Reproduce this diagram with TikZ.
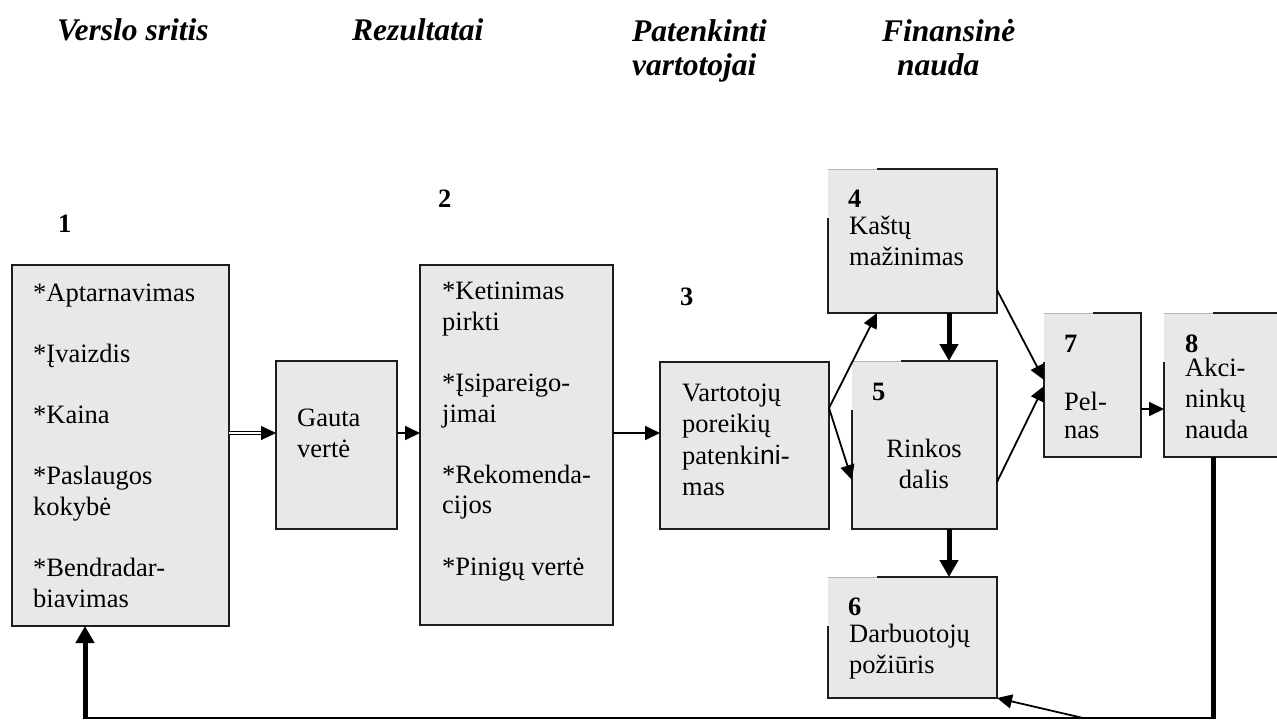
\documentclass[tikz,border=0pt]{standalone}
\usepackage{fontspec}
\setmainfont{Liberation Serif}
\newfontfamily\sansni{Liberation Sans}
\usetikzlibrary{arrows.meta}
\definecolor{boxfill}{RGB}{232,232,232}
\definecolor{edge}{RGB}{30,30,30}
\definecolor{faint}{RGB}{185,185,185}

\begin{document}
\begin{tikzpicture}[x=1pt,y=-1pt,
  box/.style={fill=boxfill, draw=edge, line width=1.8pt, inner sep=0pt, outer sep=0pt, anchor=north west},
  openbox/.style={fill=boxfill, inner sep=0pt, outer sep=0pt, anchor=north west},
  rim/.style={draw=edge, line width=1.8pt},
  faintrim/.style={draw=faint, line width=1pt},
  txt/.style={font=\fontsize{26.5}{30.6}\selectfont, inner sep=0pt, align=left, anchor=base west},
  hdr/.style={font=\fontsize{31.5}{34}\selectfont\bfseries\itshape, inner sep=0pt, align=left, anchor=base west},
  num/.style={font=\fontsize{26.5}{30}\selectfont\bfseries, inner sep=0pt, anchor=base west},
  thinline/.style={draw=black, line width=1.8pt},
  thinarrow/.style={thinline, -{Triangle[length=15pt,width=14pt]}},
  thickline/.style={draw=black, line width=5pt},
  thickarrow/.style={thickline, -{Triangle[length=17pt,width=18pt]}},
  dblline/.style={draw=black, line width=0.8pt, double distance=1.6pt}
]
\path[use as bounding box] (0,0) rectangle (1277,720);
\clip (0,0) rectangle (1277,720);

% column headings (multi-line nodes are placed by their last baseline)
\node[hdr] (h1) at (57,40) {Verslo sritis};
\node[hdr] (h2) at (352,40) {Rezultatai};
\node[hdr] (h3) at (632,75) {Patenkinti\\vartotojai};
\node[hdr] (h4a) at (882,41) {Finansinė};
\node[hdr] (h4b) at (897,75) {nauda};

% fully framed boxes
\node[box, minimum width=217pt, minimum height=361pt] (b1) at (12,265) {};
\node[box, minimum width=121pt, minimum height=168pt] (gauta) at (276,361) {};
\node[box, minimum width=193pt, minimum height=360pt] (b2) at (420,265) {};
\node[box, minimum width=169pt, minimum height=167pt] (b3) at (660,362) {};

% boxes whose top-left corner is covered by the number
\node[openbox, minimum width=169pt, minimum height=144pt] (b4) at (828,169) {};
\node[openbox, minimum width=145pt, minimum height=168pt] (b5) at (852,361) {};
\node[openbox, minimum width=169pt, minimum height=121pt] (b6) at (828,577) {};
\node[openbox, minimum width=97pt, minimum height=144pt] (b7) at (1044,313) {};
\node[openbox, minimum width=130pt, minimum height=144pt] (b8) at (1164,313) {};

\foreach \b in {b4,b5,b6,b7,b8}{
  \draw[rim] ([xshift=49pt]\b.north west) -- (\b.north east) -- (\b.south east)
    -- (\b.south west) -- ([yshift=-49pt]\b.north west);
  \draw[faintrim] (\b.north west) -- ([xshift=49pt]\b.north west);
}

% numbers
\node[num] (n1) at (58,232) {1};
\node[num] (n2) at (438,207) {2};
\node[num] (n3) at (680,305) {3};
\node[num] (n4) at (848,207) {4};
\node[num] (n5) at (872,400) {5};
\node[num] (n6) at (848,615) {6};
\node[num] (n7) at (1064,352) {7};
\node[num] (n8) at (1185,352) {8};

% box texts (placed by the baseline of their last line)
\node[txt] (t1) at (33,607) {*Aptarnavimas\\[30.6pt]*Įvaizdis\\[30.6pt]*Kaina\\[30.6pt]*Paslaugos\\kokybė\\[30.6pt]*Bendradar-\\biavimas};
\node[txt] (tg) at (297,457) {Gauta\\vertė};
\node[txt] (t2) at (442,575) {*Ketinimas\\pirkti\\[30.6pt]*Įsipareigo-\\jimai\\[30.6pt]*Rekomenda-\\cijos\\[30.6pt]*Pinigų vertė};
\node[txt] (t3) at (682,495) {Vartotojų\\poreikių\\[1.5pt]patenki{\sansni ni}-\\mas};
\node[txt] (t4) at (849,265) {Kaštų\\mažinimas};
\node[txt, align=center, anchor=base] (t5) at (924,488) {Rinkos\\dalis};
\node[txt] (t6) at (849,673) {Darbuotojų\\požiūris};
\node[txt] (t7) at (1064,438) {Pel-\\[-2.6pt]nas};
\node[txt] (t8) at (1185,438) {Akci-\\ninkų\\nauda};

% connectors
\coordinate (d1) at ([yshift=12.5pt]b1.east);
\coordinate (d2) at ([xshift=-15pt]d1 -| gauta.west);
\draw[dblline] (d1) -- (d2);
\draw[thinarrow, line width=0.8pt] (d2) -- (d1 -| gauta.west);

\draw[thinarrow] ([yshift=12pt]gauta.east) -- ([yshift=12pt]gauta.east -| b2.west);
\draw[thinarrow] ([yshift=12pt]b2.east) -- ([yshift=12pt]b2.east -| b3.west);

\coordinate (fork) at ([yshift=37.5pt]b3.east);
\draw[thinarrow] (fork) -- ([xshift=49pt]b4.south west);
\draw[thinarrow] (fork) -- ([yshift=-35pt]b5.west);

\draw[thinarrow] ([yshift=-49pt]b4.east) -- ([yshift=5pt]b7.west);
\draw[thinarrow] ([yshift=-37pt]b5.east) -- ([yshift=-1pt]b7.west);

\draw[thickarrow] ([xshift=36.5pt]b4.south) -- ([xshift=36.5pt]b4.south |- b5.north);
\draw[thickarrow] ([xshift=24.5pt]b5.south) -- ([xshift=24.5pt]b5.south |- b6.north);

\draw[thinarrow] ([yshift=-24pt]b7.east) -- ([yshift=-24pt]b7.east -| b8.west);

% feedback loop along the bottom
\coordinate (lr) at (1213,718);
\coordinate (ll) at (85,718);
\coordinate (fb) at (1083,718);
\draw[thickline] (lr |- b8.south) -- ([yshift=-1pt]lr);
\draw[thinline] (lr) -- (ll);
\draw[thickarrow] ([yshift=-1pt]ll) -- (ll |- b1.south);
\draw[thinarrow] (fb) -- (b6.south east);
\end{tikzpicture}
\end{document}
